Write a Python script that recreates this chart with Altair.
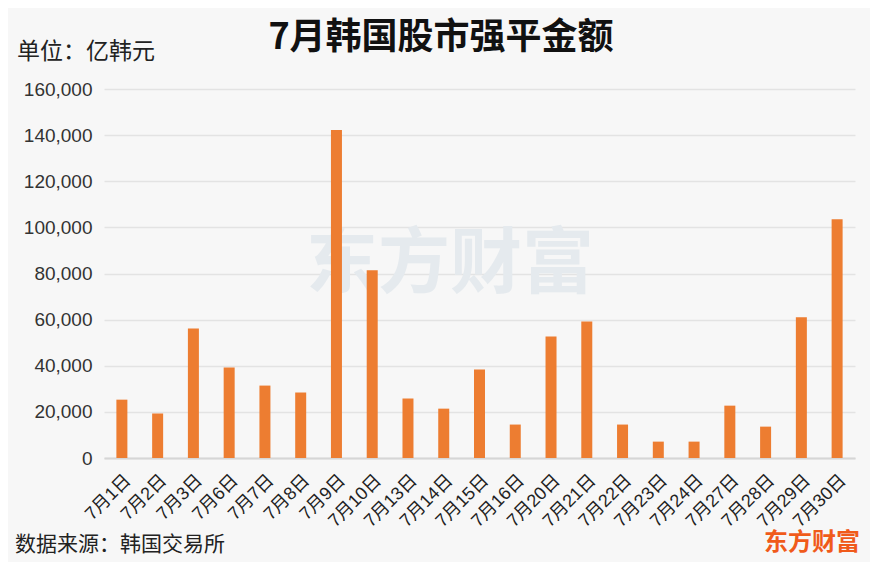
import altair as alt
import pandas as pd

dates = ["7月1日", "7月2日", "7月3日", "7月6日", "7月7日", "7月8日", "7月9日", "7月10日",
         "7月13日", "7月14日", "7月15日", "7月16日", "7月20日", "7月21日", "7月22日",
         "7月23日", "7月24日", "7月27日", "7月28日", "7月29日", "7月30日"]
values = [25300, 19300, 56200, 39200, 31400, 28400, 142200, 81400,
          25800, 21400, 38400, 14500, 52700, 59200, 14500,
          7100, 7100, 22700, 13600, 61000, 103500]

title_text = "7月韩国股市强平金额"
unit_text = "单位：亿韩元"
source_text = "数据来源：韩国交易所"
brand_text = "东方财富"

FONT = "Liberation Sans, Noto Sans CJK SC, sans-serif"
CJK = "Noto Sans CJK SC, sans-serif"

df = pd.DataFrame({"date": dates, "value": values})
one = pd.DataFrame({"k": [0]})

W, H = 751, 369

watermark = alt.Chart(one).mark_text(
    text=brand_text, font=CJK, fontSize=72, fontWeight="bold", color="#e5eaee",
    align="center", baseline="middle"
).encode(x=alt.value(346), y=alt.value(176))

bars = alt.Chart(df).mark_bar(size=11, color="#ed7d31").encode(
    x=alt.X("date:N", sort=dates, title=None,
            axis=alt.Axis(labelAngle=-45, labelFontSize=18, labelColor="#222",
                          labelFont=FONT, ticks=False, domainColor="#d6d6d6",
                          domainWidth=2, labelPadding=13)),
    y=alt.Y("value:Q", title=None, scale=alt.Scale(domain=[0, 160000]),
            axis=alt.Axis(values=list(range(0, 160001, 20000)), format=",.0f",
                          labelFontSize=19, labelColor="#333", labelFont=FONT,
                          ticks=False, domain=False, gridColor="#e3e3e3",
                          gridWidth=1.5, labelPadding=12)),
)

title = alt.Chart(one).mark_text(
    text=title_text, font=CJK, fontSize=36, fontWeight="bold", color="#111",
    align="center", baseline="middle"
).encode(x=alt.value(337), y=alt.value(-51))

unit = alt.Chart(one).mark_text(
    text=unit_text, font=CJK, fontSize=23, color="#222",
    align="left", baseline="middle"
).encode(x=alt.value(-87), y=alt.value(-37))

source = alt.Chart(one).mark_text(
    text=source_text, font=CJK, fontSize=21, color="#222",
    align="left", baseline="middle"
).encode(x=alt.value(-89), y=alt.value(456))

brand = alt.Chart(one).mark_text(
    text=brand_text, font=CJK, fontSize=24, fontWeight="bold", color="#f05a1a",
    align="right", baseline="middle"
).encode(x=alt.value(756), y=alt.value(454))

chart = alt.layer(watermark, bars, title, unit, source, brand).properties(
    width=W, height=H,
    autosize=alt.AutoSizeParams(type="none"),
    padding={"left": 96, "top": 81, "right": 15, "bottom": 104},
    background="#f7f7f7",
).configure_view(stroke=None)

chart.save("out.html", embed_options={"renderer": "svg", "actions": False})
